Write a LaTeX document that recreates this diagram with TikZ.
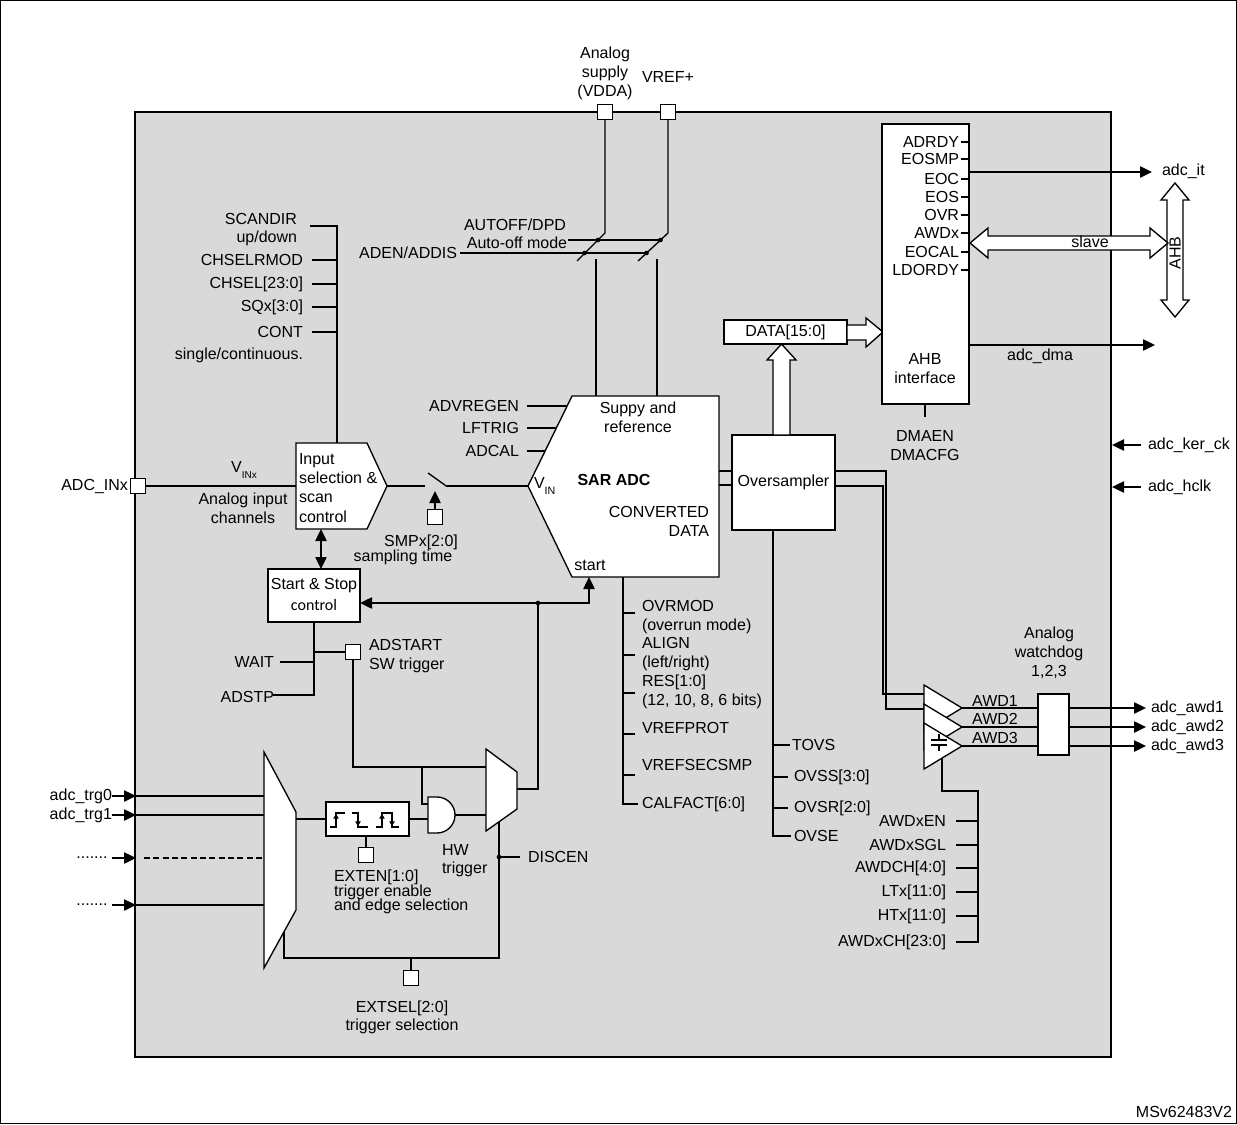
\documentclass[tikz,border=0pt]{standalone}
\usepackage{fontspec}
\setmainfont{Liberation Sans}
\newfontfamily\calfont{Carlito}
\usetikzlibrary{arrows.meta}
\begin{document}
\begin{tikzpicture}[x=0.75pt,y=-0.75pt,
  every node/.style={font=\fontsize{12}{14.3}\selectfont,inner sep=0pt,outer sep=0pt},
  wire/.style={line width=1pt,line join=miter},
  tip/.style={-{Triangle[length=9pt,width=8.5pt]}},
  tips/.style={{Triangle[length=9pt,width=8.5pt]}-{Triangle[length=9pt,width=8.5pt]}},
  blk/.style={draw,line width=1pt,fill=white,line join=miter},
  pin/.style={draw,line width=1pt,fill=white,minimum width=11.25pt,minimum height=11.25pt},
  jdot/.style={circle,fill=black,minimum size=3.5pt},
  edgearr/.style={line width=0.9pt,-{Triangle[length=3.5pt,width=4pt]}},
  sub/.style={font=\fontsize{8}{9}\selectfont},
]
\useasboundingbox (0,0) rectangle (1237,1124);
\draw[line width=0.5pt] (0.5,0.5) rectangle (1236.5,1123.5);
\node[draw,fill=black!15,line width=1.6pt,minimum width=732pt,minimum height=708.75pt] (chip) at (623,584.5) {};

% ---------------- top supply -----------------
\node[align=center] (vddalbl) at (605,73) {Analog\\supply\\(VDDA)};
\node (vreflbl) at (668,77) {VREF+};
\node[pin] (vdda) at (605,112) {};
\node[pin] (vref) at (668,112) {};
\coordinate (swa) at (605,233);
\coordinate (swb) at (668,233);
\draw[wire] (vdda.south) -- (swa) -- (577,261);
\draw[wire] (vref.south) -- (swb) -- (638,261);
\node (autoff) at (515,225) {AUTOFF/DPD};
\node (automode) at (517,243) {Auto-off mode};
\node[anchor=east] (aden) at (457,253) {ADEN/ADDIS};
\draw[wire] (568,240) -- (660.5,240);
\draw[wire] (aden.east) ++(3,0) -- (646.5,253);
\node[jdot] at (598,240) {};
\node[jdot] at (584.5,253) {};
\node[jdot] at (660.5,240) {};
\node[jdot] at (646.5,253) {};
\draw[wire] (596,259) -- (596,396);
\draw[wire] (657,259) -- (657,396);

% ---------------- SAR ADC -----------------
\draw[blk] (572,396) -- (719,396) -- (719,577) -- (572,577) -- (528,486) coordinate (vin) -- cycle;
\coordinate (sarstart) at (589,577);
\node[align=center] (supref) at (638,417.5) {Suppy and\\reference};
\node[font=\fontsize{12}{14.3}\selectfont\bfseries] (sarlbl) at (614,480) {SAR ADC};
\node[anchor=west] (vinlbl) at (534,486) {V\raisebox{-0.6ex}{\fontsize{8}{9}\selectfont IN}};
\node[anchor=east,align=right] (conv) at (709,521) {CONVERTED\\DATA};
\node (startlbl) at (590,565) {start};
\node[anchor=east] (advregen) at (519,406) {ADVREGEN};
\node[anchor=east] (lftrig) at (519,428) {LFTRIG};
\node[anchor=east] (adcal) at (519,451) {ADCAL};
\draw[wire] (527,406) -- (567.1,406);
\draw[wire] (527,428) -- (556.4,428);
\draw[wire] (527,451) -- (545.1,451);

% ---------------- input selection -----------------
\foreach \t/\y/\x in {SCANDIR/219/297, up\slash down/238/297, CHSELRMOD/260/303, CHSEL[23:0]/284/303, SQx[3:0]/307/303, CONT/332/303, single\slash continuous./355/303}
  {\node[anchor=east] at (\x,\y) {\t};}
\draw[wire] (310,226) -- (337,226) -- (337,443);
\foreach \y in {260,284,307,332} {\draw[wire] (312,\y) -- (337,\y);}
\node[pin] (adcin) at (138,486) {};
\node[anchor=east] (adcinlbl) at (128,486) {ADC\_INx};
\node (vinx) at (244,470) {V\raisebox{-0.6ex}{\fontsize{7.5}{9}\selectfont INx}};
\node[align=center] (chan) at (243,508) {Analog input\\channels};
\draw[wire] (adcin.east) -- (296,486);
\draw[blk] (296,443) -- (367,443) -- (387,486) coordinate (inselout) -- (367,529) -- (296,529) -- cycle;
\node[anchor=west,align=left] (insel) at (299,488) {Input\\selection \&\\scan\\control};
% sampling switch
\draw[wire] (inselout) -- (425,486);
\draw[wire] (428,473) -- (447,486.5);
\draw[wire] (447,486) -- (vin);
\node[pin] (smp) at (435,517) {};
\draw[wire,tip] (smp.north) -- (435,491);
\node (smplbl) at (421,542) {SMPx[2:0]};
\node (smplbl2) at (403,557) {sampling time};

% ---------------- start & stop -----------------
\node[blk,minimum width=69pt,minimum height=39.75pt] (ss) at (314,595.5) {};
\node (sstxt) at (314,586) {Start \& Stop};
\node[font=\calfont\fontsize{12}{14}\selectfont] (sstxt2) at (314,605) {control};
\draw[wire,tips] (321,529) -- (321,569);
\coordinate (stj) at (538,603);
\draw[wire,tip] (stj) -- (ss.east |- stj);
\draw[wire,tip] (stj) -- (589,603) -- (sarstart);
\node[jdot] at (stj) {};
\draw[wire] (314,622) -- (314,695) -- (273,695);
\draw[wire] (280,662) -- (314,662);
\node[anchor=east] (wait) at (274,662) {WAIT};
\node[anchor=east] (adstp) at (274,697) {ADSTP};
\node[pin] (adstart) at (353,652) {};
\draw[wire] (314,652) -- (adstart.west);
\node[anchor=west] (adstartlbl) at (369,645) {ADSTART};
\node[anchor=west] (swtrig) at (369,665) {SW trigger};

% ---------------- trigger path -----------------
\draw[wire] (adstart.south) -- (353,767) -- (486,767);
\draw[wire] (422,767) -- (422,804) -- (428,804);
\draw[wire] (409,819) -- (428,819);
\draw[wire] (455,815) -- (486,815);
\draw[blk] (428,797) -- (437,797) arc[start angle=-90,end angle=90,radius=18] -- (428,833) -- cycle;
\draw[blk] (486,749) -- (517,772) -- (517,809) -- (486,831) -- cycle;
\draw[wire] (517,789) -- (538,789) -- (stj);
\draw[wire] (499,822) -- (499,958) -- (284,958) -- (284,932);
\node[jdot] at (499,857) {};
\draw[wire] (499,857) -- (520,857);
\node[anchor=west] (discen) at (528,857) {DISCEN};
\node[anchor=west] (hw1) at (442,850) {HW};
\node[anchor=west] (hw2) at (442,869) {trigger};
\node[pin] (extsel) at (411,978) {};
\draw[wire] (411,958) -- (extsel.north);
\node (extsellbl) at (402,1008) {EXTSEL[2:0]};
\node (extsellbl2) at (402,1026) {trigger selection};

% mux1 inputs
\draw[wire] (136,796) -- (264,796);
\draw[wire] (136,815) -- (264,815);
\draw[wire,dashed,dash pattern=on 4.5pt off 2.5pt] (144,858) -- (262,858);
\draw[wire] (136,905) -- (264,905);
\node[anchor=east] (trg0) at (112,796) {adc\_trg0};
\node[anchor=east] (trg1) at (112,815) {adc\_trg1};
\node (dots1) at (92,858) {.......};
\node (dots2) at (92,905) {.......};
\draw[wire,tip] (trg0.east) -- (136,796);
\draw[wire,tip] (trg1.east) -- (136,815);
\draw[wire,tip] (112,858) -- (136,858);
\draw[wire,tip] (112,905) -- (136,905);
\draw[blk] (264,752) -- (296,812) -- (296,910) -- (264,968) -- cycle;
\draw[wire] (296,819) -- (326,819);

% edge detector
\node[draw,line width=1.6pt,fill=white,minimum width=62.25pt,minimum height=25.5pt] (edge) at (367.5,819) {};
\draw[line width=0.9pt] (330,827) -- (336,827) -- (336,813) -- (345,813);
\draw[edgearr] (336,826) -- (336,814);
\draw[line width=0.9pt] (352,813) -- (358,813) -- (358,827) -- (368,827);
\draw[edgearr] (358,814) -- (358,826);
\draw[line width=0.9pt] (376,827) -- (382,827) -- (382,813) -- (392,813) -- (392,827) -- (399,827);
\draw[edgearr] (382,826) -- (382,814);
\draw[edgearr] (392,814) -- (392,826);
\node[pin] (exten) at (366,855) {};
\draw[wire] (edge.south -| exten) -- (exten.north);
\node[anchor=west] (extenl1) at (334,877) {EXTEN[1:0]};
\node[anchor=west] (extenl2) at (334,892) {trigger enable};
\node[anchor=west] (extenl3) at (334,906) {and edge selection};

% ---------------- SAR options -----------------
\draw[wire] (623,577) -- (623,804) -- (638,804);
\foreach \y in {613,655,693,734,775} {\draw[wire] (623,\y) -- (635,\y);}
\foreach \t/\y in {OVRMOD/606, (overrun mode)/626, ALIGN/643, (left\slash right)/663, RES[1:0]/682, {(12, 10, 8, 6 bits)}/701, VREFPROT/728, VREFSECSMP/765, CALFACT[6:0]/804}
  {\node[anchor=west] at (642,\y) {\t};}

% ---------------- oversampler -----------------
\draw[wire] (719,471) -- (732,471);
\draw[wire] (719,485) -- (732,485);
\node[blk,minimum width=77.25pt,minimum height=71.25pt] (ovs) at (783.5,482.5) {Oversampler};
\draw[wire] (773,530) -- (773,836) -- (791,836);
\draw[wire] (773,745) -- (790,745);
\draw[wire] (773,777) -- (788,777);
\draw[wire] (773,808) -- (788,808);
\node[anchor=west] (tovs) at (792,745) {TOVS};
\node[anchor=west] (ovss) at (794,777) {OVSS[3:0]};
\node[anchor=west] (ovsr) at (794,808) {OVSR[2:0]};
\node[anchor=west] (ovse) at (794,836) {OVSE};
\node[blk,minimum width=92.25pt,minimum height=18pt] (data) at (785.5,332) {DATA[15:0]};
\draw[blk] (773,435) -- (773,360) -- (767,360) -- (781.5,344) -- (796,360) -- (790,360) -- (790,435) -- cycle;
\draw[blk] (847,325) -- (866,325) -- (866,318) -- (883,332) -- (866,347) -- (866,340) -- (847,340) -- cycle;

% bus to watchdog
\draw[wire] (835,471) -- (886,471) -- (886,709) -- (925,709);
\draw[wire] (835,486) -- (883,486) -- (883,694) -- (925,694);

% ---------------- AHB interface -----------------
\node[blk,minimum width=65.25pt,minimum height=210pt] (ahb) at (925.5,264) {};
\foreach \s/\y in {ADRDY/142, EOSMP/159, EOC/179, EOS/197, OVR/215, AWDx/233, EOCAL/252, LDORDY/270}
  {\node[anchor=east] (sig\s) at (959,\y) {\s}; \draw[wire] (961,\y) -- (969,\y);}
\node[align=center] (ahbtxt) at (925,368.5) {AHB\\interface};
\draw[wire] (925,404) -- (925,417);
\node[align=center] (dmaen) at (925,446) {DMAEN\\DMACFG};
\draw[wire,tip] (969,172) -- (1152,172);
\node[anchor=west] (adcit) at (1162,171) {adc\_it};
\draw[wire,tip] (969,345) -- (1155,345);
\node (adcdma) at (1040,356) {adc\_dma};
\draw[blk] (1175,183) -- (1189,200) -- (1183,200) -- (1183,300) -- (1189,300) -- (1175,317) -- (1161,300) -- (1167,300) -- (1167,200) -- (1161,200) -- cycle;
\node[rotate=90] (ahblbl) at (1175,253) {AHB};
\draw[blk] (970,243) -- (988,228) -- (988,236) -- (1150,236) -- (1150,228) -- (1168,243) -- (1150,258) -- (1150,250) -- (988,250) -- (988,258) -- cycle;
\node (slave) at (1090,242) {slave};

% clocks
\node[anchor=west] (kerck) at (1148,445) {adc\_ker\_ck};
\node[anchor=west] (hclk) at (1148,487) {adc\_hclk};
\draw[wire,tip] (1141,445) -- (1112,445);
\draw[wire,tip] (1141,487) -- (1112,487);

% ---------------- watchdog -----------------
\draw[blk] (924,685) -- (962,708) -- (924,731) -- cycle;
\draw[blk] (924,704) -- (962,727) -- (924,750) -- cycle;
\draw[blk] (924,723) -- (962,746) -- (924,769) -- cycle;
\draw[line width=1pt] (939,734) -- (939,740) (931,740) -- (947,740) (931,745) -- (947,745) (939,745) -- (939,751);
\node[blk,minimum width=23.25pt,minimum height=45.75pt] (awdbox) at (1053.5,724.5) {};
\node[align=center] (awdlbl) at (1049,652.5) {Analog\\watchdog\\1,2,3};
\foreach \i/\y/\ly in {1/708/701, 2/727/719, 3/746/738}
  {\draw[wire] (962,\y) -- (awdbox.west |- {(0,\y)});
   \node (awd\i) at (995,\ly) {AWD\i};
   \draw[wire,tip] (awdbox.east |- {(0,\y)}) -- (1146,\y);
   \node[anchor=west] (out\i) at (1151,\y) {adc\_awd\i};}
\draw[wire] (942,758) -- (942,791) -- (978,791) -- (978,942) -- (956,942);
\foreach \y in {821,845,868,892,916} {\draw[wire] (956,\y) -- (978,\y);}
\foreach \t/\y in {AWDxEN/821, AWDxSGL/845, AWDCH[4:0]/868, LTx[11:0]/892, HTx[11:0]/916, AWDxCH[23:0]/942}
  {\node[anchor=east] at (946,\y) {\t};}

\node[anchor=east] (ref) at (1232,1112) {MSv62483V2};
\end{tikzpicture}
\end{document}
